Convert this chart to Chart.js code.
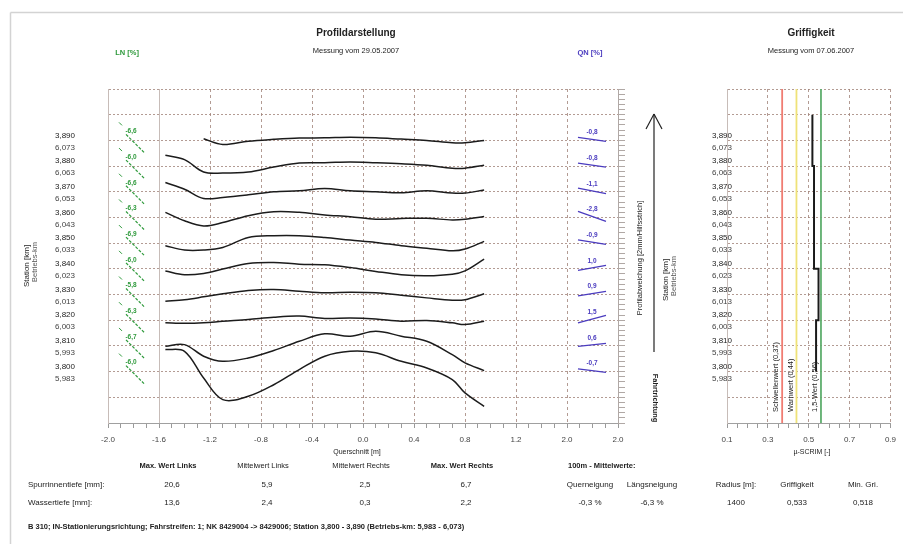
<!DOCTYPE html>
<html lang="de">
<head>
<meta charset="utf-8">
<title>Profildarstellung / Griffigkeit</title>
<script src="https://cdn.jsdelivr.net/npm/chart.js@4.4.1/dist/chart.umd.min.js"></script>
<style>
  html, body { margin: 0; padding: 0; background: #fff; }
  #blatt { position: relative; width: 903px; height: 544px; overflow: hidden; }
  #blatt canvas { position: absolute; left: 0; top: 0; }
</style>
</head>
<body>
<div id="blatt">
  <canvas id="profil" width="903" height="544"></canvas>
  <canvas id="griffigkeit" width="903" height="544"></canvas>
</div>
<script>
const FONT = '"Liberation Sans", Arial, sans-serif';
const gitterFarbe = 'rgba(160,130,120,0.8)';
const rahmenFarbe = '#c7bcb8';
const lnFarbe = '#2f9a3c';
const qnFarbe = '#4a3bbf';

// Stationen (m) und Betriebs-km
const stationen = [3890, 3880, 3870, 3860, 3850, 3840, 3830, 3820, 3810, 3800];
const betriebsKm = ['6,073', '6,063', '6,053', '6,043', '6,033', '6,023', '6,013', '6,003', '5,993', '5,983'];

// Querschnitt [m] und Profilabweichungen [mm] je Station
const querschnitt = [-1.55, -1.4, -1.25, -1.1, -0.9, -0.7, -0.5, -0.3, -0.1, 0.1, 0.3, 0.5, 0.7, 0.8, 0.95];
const abw3890 = [null, null, 0.6, -1.6, -0.3, 0.4, 0.9, 1.0, 1.2, 1.0, 0.5, 0.0, -0.9, -0.9, 0.0];
const abw3880 = [4.2, 2.5, -2.3, -2.7, -2.3, -0.4, 1.2, 1.3, 1.6, 1.3, 0.9, 0.3, -0.8, -0.8, 0.3];
const abw3870 = [3.6, 1.0, -2.6, -2.2, -1.2, 0.0, 0.4, 1.3, 0.4, 0.0, -0.4, 0.4, -0.5, -0.5, 0.7];
const abw3860 = [2.0, -1.3, -3.3, -2.0, 0.7, 2.2, 2.0, 1.0, 0.3, -0.7, -0.4, -0.3, -1.0, -0.7, 0.4];
const abw3850 = [-1.0, -2.7, -2.7, -1.7, 2.2, 2.9, 2.9, 2.2, 1.2, 0.3, -1.0, -2.0, -3.0, -2.3, 0.7];
const abw3840 = [-0.8, -2.3, -1.8, -0.1, 2.1, 2.5, 1.8, 1.6, 0.5, -1.0, -2.3, -2.7, -2.1, -0.8, 3.8];
const abw3830 = [-2.6, -2.0, -0.9, 0.3, 1.6, 2.0, 1.3, 0.7, 0.9, 0.7, -0.3, -1.3, -2.2, -2.0, 0.3];
const abw3820 = [-1.0, -1.2, -1.0, -0.4, 0.3, 1.2, 1.6, 0.7, 0.9, 0.5, -0.4, -0.1, -1.0, -1.7, -0.4];
const abw3810 = [-0.1, 0.5, -4.0, -6.0, -4.7, -1.8, 1.8, 4.7, 3.8, 5.7, 3.8, 1.8, -3.4, -6.6, -9.6];
const abw3800 = [8.6, 7.9, -2.5, -10.9, -9.6, -5.1, 0.8, 6.0, 7.9, 7.3, 4.0, 1.4, -3.1, -8.3, -13.5];
const profilKurven = [abw3890, abw3880, abw3870, abw3860, abw3850, abw3840, abw3830, abw3820, abw3810, abw3800];

// Längs- und Querneigung [%]
const lnWerte = [-6.6, -6.0, -6.6, -6.3, -6.9, -6.0, -5.8, -6.3, -6.7, -6.0];
const qnWerte = [-0.8, -0.8, -1.1, -2.8, -0.9, 1.0, 0.9, 1.5, 0.6, -0.7];

// Achsbeschriftungen
const querTicks = [-2.0, -1.6, -1.2, -0.8, -0.4, 0.0, 0.4, 0.8, 1.2, 1.6, 2.0];
const querTickLabels = ['-2.0', '-1.6', '-1.2', '-0.8', '-0.4', '0.0', '0.4', '0.8', '1.2', '2.0', '2.0'];
const griffTicks = [0.1, 0.3, 0.5, 0.7, 0.9];
const griffTickLabels = ['0.1', '0.3', '0.5', '0.7', '0.9'];

// Griffigkeit (Abschnitte) und Grenzwerte
const griffStationen = [3900, 3880, 3840, 3820, 3800];
const griffWerte = [0.518, 0.526, 0.548, 0.536];
const grenzNamen = ['Schwellenwert', 'Warnwert', '1,5-Wert'];
const grenzWerte = [0.37, 0.44, 0.56];
const grenzFarben = ['#f07c72', '#efe278', '#5fae6e'];

// Tabelle
const spaltenKoepfe = ['Max. Wert Links', 'Mittelwert Links', 'Mittelwert Rechts', 'Max. Wert Rechts'];
const spurrinnentiefe = ['20,6', '5,9', '2,5', '6,7'];
const wassertiefe = ['13,6', '2,4', '0,3', '2,2'];
const mittelKoepfe = ['Querneigung', 'Längsneigung', 'Radius [m]:', 'Griffigkeit', 'Min. Gri.'];
const mittelWerte = ['-0,3 %', '-6,3 %', '1400', '0,533', '0,518'];

const STATION_MIN = 3780, STATION_MAX = 3910;
const X_ACHSE_HOEHE = 30;
const komma = (v, d) => v.toFixed(d).replace('.', ',');

function minorTicks(majors, n) {
  const out = [];
  for (let i = 0; i < majors.length - 1; i++) {
    for (let k = 0; k < n; k++) out.push(+(majors[i] + (majors[i + 1] - majors[i]) * k / n).toFixed(6));
  }
  out.push(majors[majors.length - 1]);
  return out;
}

function stufen(step) {
  const t = [];
  for (let v = STATION_MIN; v <= STATION_MAX; v += step) t.push({ value: v });
  return t;
}

function txt(ctx, s, x, y, opt = {}) {
  ctx.save();
  ctx.font = (opt.bold ? 'bold ' : '') + (opt.size || 8) + 'px ' + FONT;
  ctx.fillStyle = opt.color || '#222';
  ctx.textAlign = opt.align || 'center';
  ctx.textBaseline = opt.base || 'middle';
  ctx.translate(x, y);
  if (opt.rot) ctx.rotate(opt.rot);
  ctx.fillText(s, 0, 0);
  ctx.restore();
}

function linie(ctx, x1, y1, x2, y2, farbe, breite, dash) {
  ctx.save();
  ctx.strokeStyle = farbe;
  ctx.lineWidth = breite || 1;
  ctx.setLineDash(dash || []);
  ctx.beginPath();
  ctx.moveTo(x1, y1);
  ctx.lineTo(x2, y2);
  ctx.stroke();
  ctx.restore();
}

const blattTexte = {
  id: 'blattTexte',
  afterDraw(chart) {
    const ctx = chart.ctx;
    const y = chart.scales.y;

    // Rahmen
    linie(ctx, 10.5, 12.5, 903, 12.5, '#d3d3d3', 1.5);
    linie(ctx, 10.5, 12.5, 10.5, 544, '#d3d3d3', 1.5);

    // Überschriften
    txt(ctx, 'Profildarstellung', 356, 33, { bold: true, size: 10 });
    txt(ctx, 'Messung vom 29.05.2007', 356, 51, { size: 7.5 });
    txt(ctx, 'LN [%]', 127, 53, { bold: true, size: 7.5, color: lnFarbe });
    txt(ctx, 'QN [%]', 590, 53, { bold: true, size: 7.5, color: qnFarbe });
    txt(ctx, 'Griffigkeit', 811, 33, { bold: true, size: 10 });
    txt(ctx, 'Messung vom 07.06.2007', 811, 51, { size: 7.5 });

    stationen.forEach((s, i) => {
      const yb = y.getPixelForValue(s);
      const st = komma(s / 1000, 3);
      txt(ctx, st, 65, yb - 5, { size: 8 });
      txt(ctx, betriebsKm[i], 65, yb + 7, { size: 8, color: '#444' });
      txt(ctx, st, 722, yb - 5, { size: 8 });
      txt(ctx, betriebsKm[i], 722, yb + 7, { size: 8, color: '#444' });

      // Längsneigung
      txt(ctx, komma(lnWerte[i], 1), 131, yb - 9, { bold: true, size: 6.5, color: lnFarbe });
      linie(ctx, 126, yb - 6, 145, yb + 13, lnFarbe, 1.2, [3, 1.5]);
      linie(ctx, 119, yb - 18, 122, yb - 15, lnFarbe, 1);

      // Querneigung
      const h = Math.sign(qnWerte[i]) * Math.min(Math.abs(qnWerte[i]) * 2.5, 5);
      txt(ctx, komma(qnWerte[i], 1), 592, yb - 8, { bold: true, size: 6.5, color: qnFarbe });
      linie(ctx, 578, yb - 1 + h, 606, yb - 1 - h, qnFarbe, 1.3);
    });

    // senkrechte Beschriftungen
    txt(ctx, 'Station [km]', 27, 266, { size: 8, rot: -Math.PI / 2 });
    txt(ctx, 'Betriebs-km', 35, 262, { size: 7.5, color: '#555', rot: -Math.PI / 2 });
    txt(ctx, 'Station [km]', 666, 280, { size: 8, rot: -Math.PI / 2 });
    txt(ctx, 'Betriebs-km', 674, 276, { size: 7.5, color: '#555', rot: -Math.PI / 2 });
    txt(ctx, 'Profilabweichung [2mm/Hilfsstrich]', 640, 258, { size: 7.5, rot: -Math.PI / 2 });
    txt(ctx, 'Fahrtrichtung', 655, 398, { bold: true, size: 7.5, rot: Math.PI / 2 });

    // Pfeil Fahrtrichtung
    linie(ctx, 654, 352, 654, 114, '#222', 1.2);
    linie(ctx, 654, 114, 646, 129, '#222', 1.2);
    linie(ctx, 654, 114, 662, 129, '#222', 1.2);

    txt(ctx, 'Querschnitt [m]', 357, 452, { size: 7 });

    // Tabelle
    const spalten = [168, 263, 361, 462];
    spaltenKoepfe.forEach((k, i) => txt(ctx, k, spalten[i], 466, { bold: i === 0 || i === 3, size: 7.5 }));
    txt(ctx, '100m - Mittelwerte:', 568, 466, { bold: true, size: 7.5, align: 'left' });
    txt(ctx, 'Spurrinnentiefe [mm]:', 28, 485, { size: 8, align: 'left' });
    txt(ctx, 'Wassertiefe [mm]:', 28, 503, { size: 8, align: 'left' });
    spurrinnentiefe.forEach((v, i) => txt(ctx, v, spalten[i] + 4, 485, { size: 8 }));
    wassertiefe.forEach((v, i) => txt(ctx, v, spalten[i] + 4, 503, { size: 8 }));
    const mSpalten = [590, 652, 736, 797, 863];
    mittelKoepfe.forEach((k, i) => txt(ctx, k, mSpalten[i], 485, { size: 8 }));
    mittelWerte.forEach((v, i) => txt(ctx, v, mSpalten[i], 503, { size: 8 }));

    txt(ctx, 'B 310; IN-Stationierungsrichtung; Fahrstreifen: 1; NK 8429004 -> 8429006; Station 3,800 - 3,890 (Betriebs-km: 5,983 - 6,073)',
      28, 527, { bold: true, size: 7.5, align: 'left' });
  }
};

const profilDatasets = profilKurven.map((abw, i) => ({
  data: querschnitt.map((q, j) => abw[j] === null ? null : { x: q, y: stationen[i] + abw[j] }).filter(Boolean),
  borderColor: '#1c1c1c',
  borderWidth: 1.5,
  pointRadius: 0,
  tension: 0.35,
  showLine: true,
  fill: false
}));

const tickFont = { family: FONT, size: 8 };

new Chart(document.getElementById('profil'), {
  type: 'scatter',
  data: { datasets: profilDatasets },
  plugins: [blattTexte],
  options: {
    responsive: false,
    animation: false,
    layout: { padding: { left: 108, right: 285, top: 89, bottom: 121 - X_ACHSE_HOEHE } },
    plugins: { legend: { display: false }, tooltip: { enabled: false } },
    scales: {
      x: {
        type: 'linear', min: -2, max: 2,
        afterFit: s => { s.height = X_ACHSE_HOEHE; },
        afterBuildTicks: s => { s.ticks = minorTicks(querTicks, 4).map(v => ({ value: v })); },
        ticks: {
          autoSkip: false, maxRotation: 0, padding: 7, color: '#444', font: tickFont,
          callback: (v, i) => i % 4 === 0 ? querTickLabels[i / 4] : ''
        },
        grid: {
          color: c => (c.index % 4 === 0 && c.index > 0 && c.index < 40) ? (c.index === 4 ? rahmenFarbe : gitterFarbe) : 'transparent',
          tickColor: '#9a9a9a', tickLength: 5
        },
        border: { color: '#a0a0a0', dash: c => c.index === 4 ? [] : [3, 3] }
      },
      y: {
        type: 'linear', min: STATION_MIN, max: STATION_MAX,
        afterFit: s => { s.width = 0; },
        afterBuildTicks: s => { s.ticks = stufen(10); },
        ticks: { display: false },
        grid: { color: c => c.index === 0 ? 'transparent' : gitterFarbe, drawTicks: false },
        border: { color: rahmenFarbe, dash: [2, 2] }
      },
      y2: {
        type: 'linear', position: 'right', min: STATION_MIN, max: STATION_MAX,
        afterFit: s => { s.width = 0; },
        afterBuildTicks: s => { s.ticks = stufen(2); },
        ticks: { display: false },
        grid: { drawOnChartArea: false, tickLength: 7, tickColor: '#b0a8a5' },
        border: { color: '#b0a8a5' }
      }
    }
  }
});

// Griffigkeit
const griffPunkte = [];
griffWerte.forEach((w, i) => {
  griffPunkte.push({ x: w, y: griffStationen[i] }, { x: w, y: griffStationen[i + 1] });
});

const grenzDatasets = grenzWerte.map((w, i) => ({
  data: [{ x: w, y: STATION_MIN }, { x: w, y: STATION_MAX }],
  borderColor: grenzFarben[i], borderWidth: 1.8, pointRadius: 0, showLine: true
}));

const griffTexte = {
  id: 'griffTexte',
  afterDraw(chart) {
    const ctx = chart.ctx;
    const x = chart.scales.x;
    grenzWerte.forEach((w, i) => {
      txt(ctx, grenzNamen[i] + ' (' + komma(w, 2) + ')', x.getPixelForValue(w) - 2, 412,
        { size: 7.5, align: 'left', base: 'bottom', rot: -Math.PI / 2 });
    });
    txt(ctx, 'µ-SCRIM [-]', 812, 452, { size: 7 });
  }
};

new Chart(document.getElementById('griffigkeit'), {
  type: 'scatter',
  data: {
    datasets: [
      ...grenzDatasets,
      { data: griffPunkte, borderColor: '#1a1a1a', borderWidth: 2, pointRadius: 0, showLine: true, tension: 0 }
    ]
  },
  plugins: [griffTexte],
  options: {
    responsive: false,
    animation: false,
    layout: { padding: { left: 727, right: 8, top: 89, bottom: 121 - X_ACHSE_HOEHE } },
    plugins: { legend: { display: false }, tooltip: { enabled: false } },
    scales: {
      x: {
        type: 'linear', min: 0.1, max: 0.9,
        afterFit: s => { s.height = X_ACHSE_HOEHE; },
        afterBuildTicks: s => { s.ticks = minorTicks(griffTicks, 4).map(v => ({ value: v })); },
        ticks: {
          autoSkip: false, maxRotation: 0, padding: 7, color: '#444', font: tickFont,
          callback: (v, i) => i % 4 === 0 ? griffTickLabels[i / 4] : ''
        },
        grid: { color: c => (c.index % 4 === 0 && c.index > 0) ? gitterFarbe : 'transparent', tickColor: '#9a9a9a', tickLength: 5 },
        border: { color: '#a0a0a0', dash: [3, 3] }
      },
      y: {
        type: 'linear', min: STATION_MIN, max: STATION_MAX,
        afterFit: s => { s.width = 0; },
        afterBuildTicks: s => { s.ticks = stufen(10); },
        ticks: { display: false },
        grid: { color: c => c.index === 0 ? 'transparent' : gitterFarbe, drawTicks: false },
        border: { color: rahmenFarbe, dash: [2, 2] }
      }
    }
  }
});
</script>
</body>
</html>
